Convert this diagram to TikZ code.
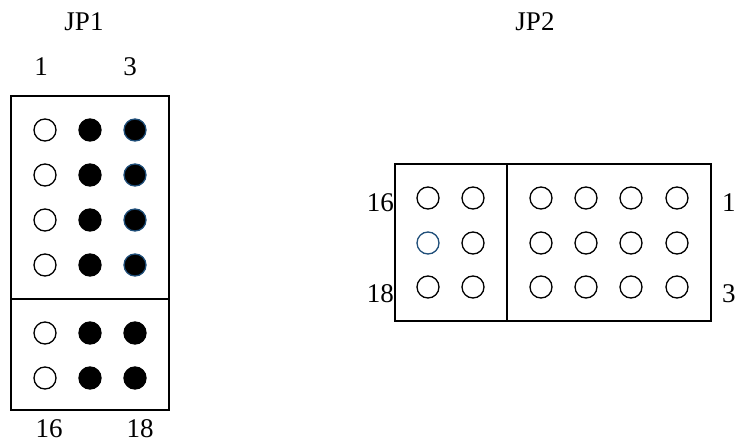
\documentclass[tikz,border=0pt]{standalone}
\usepackage{fontspec}
\setmainfont{Liberation Serif}
\definecolor{pinblue}{HTML}{1F4E79}
\begin{document}
\begin{tikzpicture}[x=1pt,y=-1pt,
  box/.style={draw=black,line width=1.4pt},
  pin/.style={circle,line width=1.3pt,minimum size=22pt,inner sep=0pt},
  openpin/.style={pin,draw=black,fill=white},
  fullpin/.style={pin,draw=black,fill=black},
  bluefull/.style={pin,draw=pinblue,fill=black},
  blueopen/.style={pin,draw=pinblue,fill=white},
  lbl/.style={font=\fontsize{27}{31}\selectfont,inner sep=0pt,anchor=base}]
\useasboundingbox (0,0) rectangle (738,443);
% JP1
\draw[box] (11,96) rectangle (169,410);
\draw[box] (11,299) -- (169,299);
\node[lbl] (jp1) at (84,31) {JP1};
\node[lbl] (j1a) at (41,76) {1};
\node[lbl] (j1b) at (130,76) {3};
\node[lbl] (j1c) at (49,437) {16};
\node[lbl] (j1d) at (140,437) {18};
\foreach \y [count=\i] in {130,175,220,265}{
  \node[openpin] (a\i a) at (45,\y) {};
  \node[fullpin] (a\i b) at (90,\y) {};
  \node[bluefull] (a\i c) at (135,\y) {};
}
\foreach \y [count=\i from 5] in {333,378}{
  \node[openpin] (a\i a) at (45,\y) {};
  \node[fullpin] (a\i b) at (90,\y) {};
  \node[fullpin] (a\i c) at (135,\y) {};
}
% JP2
\draw[box] (395,164) rectangle (711,321);
\draw[box] (507,164) -- (507,321);
\node[lbl] (jp2) at (535,31) {JP2};
\node[lbl,anchor=base east] (j2a) at (394,212) {16};
\node[lbl,anchor=base east] (j2b) at (394,302) {18};
\node[lbl,anchor=base west] (j2c) at (722,212) {1};
\node[lbl,anchor=base west] (j2d) at (722,302) {3};
\foreach \y [count=\i] in {198,243,287}{
  \foreach \x [count=\j] in {428,473,541,586,631,677}{
    \ifnum\i=2 \ifnum\j=1
      \node[blueopen] (b\i-\j) at (\x,\y) {};
    \else
      \node[openpin] (b\i-\j) at (\x,\y) {};
    \fi\else
      \node[openpin] (b\i-\j) at (\x,\y) {};
    \fi
  }
}
\end{tikzpicture}
\end{document}
